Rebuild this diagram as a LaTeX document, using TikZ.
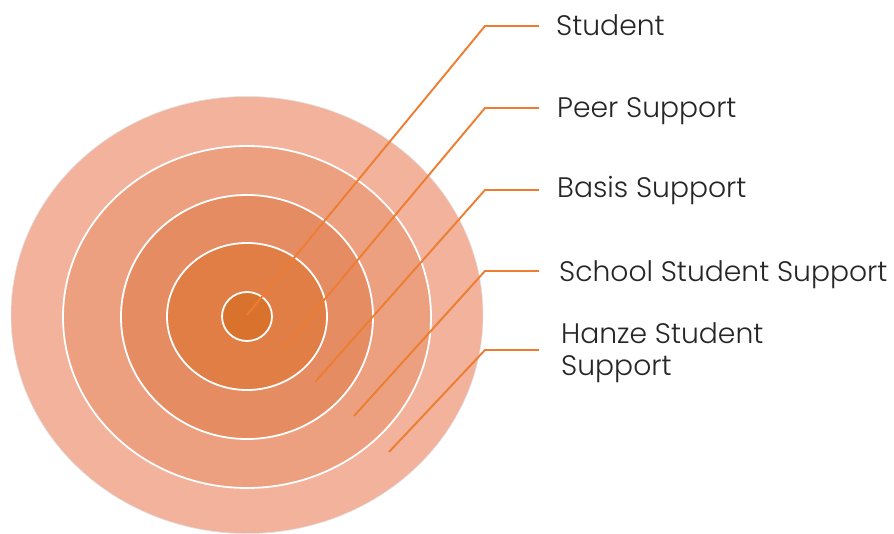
\documentclass[tikz,border=0pt]{standalone}
\usepackage{fontspec}
\setmainfont{Poppins Light}
\definecolor{cA}{HTML}{F2B29B}
\definecolor{cB}{HTML}{ECA07F}
\definecolor{cC}{HTML}{E68C62}
\definecolor{cD}{HTML}{E07E46}
\definecolor{cE}{HTML}{D9722D}
\definecolor{lead}{HTML}{ED7D31}
\definecolor{txt}{HTML}{262626}
\begin{document}
\begin{tikzpicture}[x=1pt,y=-1pt,
  ring/.style={draw=white,line width=1.8pt},
  leader/.style={draw=lead,line width=1.9pt},
  lbl/.style={anchor=base west,inner sep=0pt,text=txt,font=\fontsize{28.2}{32}\selectfont,align=left}]
\useasboundingbox[fill=white] (0,0) rectangle (894,534);
% rings
\fill[cA,draw=black!12,line width=0.6pt] (247,315) ellipse [x radius=236,y radius=218.5];
\filldraw[fill=cB,ring] (247,317) ellipse [x radius=184,y radius=171];
\filldraw[fill=cC,ring] (247,317) ellipse [x radius=126,y radius=122];
\filldraw[fill=cD,ring] (247,316.5) ellipse [x radius=80,y radius=73.5];
\filldraw[fill=cE,ring] (247,316.5) ellipse [x radius=25,y radius=24.5];
% labels
\node[lbl] (l1) at (556,36) {Student};
\node[lbl] (l2) at (557,118) {Peer Support};
\node[lbl] (l3) at (557,198) {Basis Support};
\node[lbl] (l4) at (559,282) {School Student Support};
\node[lbl] (l5) at (561,375) {Hanze Student\\Support};
% leader coordinates
\coordinate (s1) at (247,315); \coordinate (e1) at (485,26); \coordinate (t1) at (539,26);
\coordinate (s2) at (283,349); \coordinate (e2) at (485,108); \coordinate (t2) at (539,108);
\coordinate (s3) at (315,382); \coordinate (e3) at (485,190); \coordinate (t3) at (539,190);
\coordinate (s4) at (354,416); \coordinate (e4) at (485,271); \coordinate (t4) at (539,271);
\coordinate (s5) at (389,452); \coordinate (e5) at (485,350); \coordinate (t5) at (539,350);
\foreach \i in {1,...,5}{\draw[leader] (s\i) -- (e\i) -- (t\i);}
\end{tikzpicture}
\end{document}
